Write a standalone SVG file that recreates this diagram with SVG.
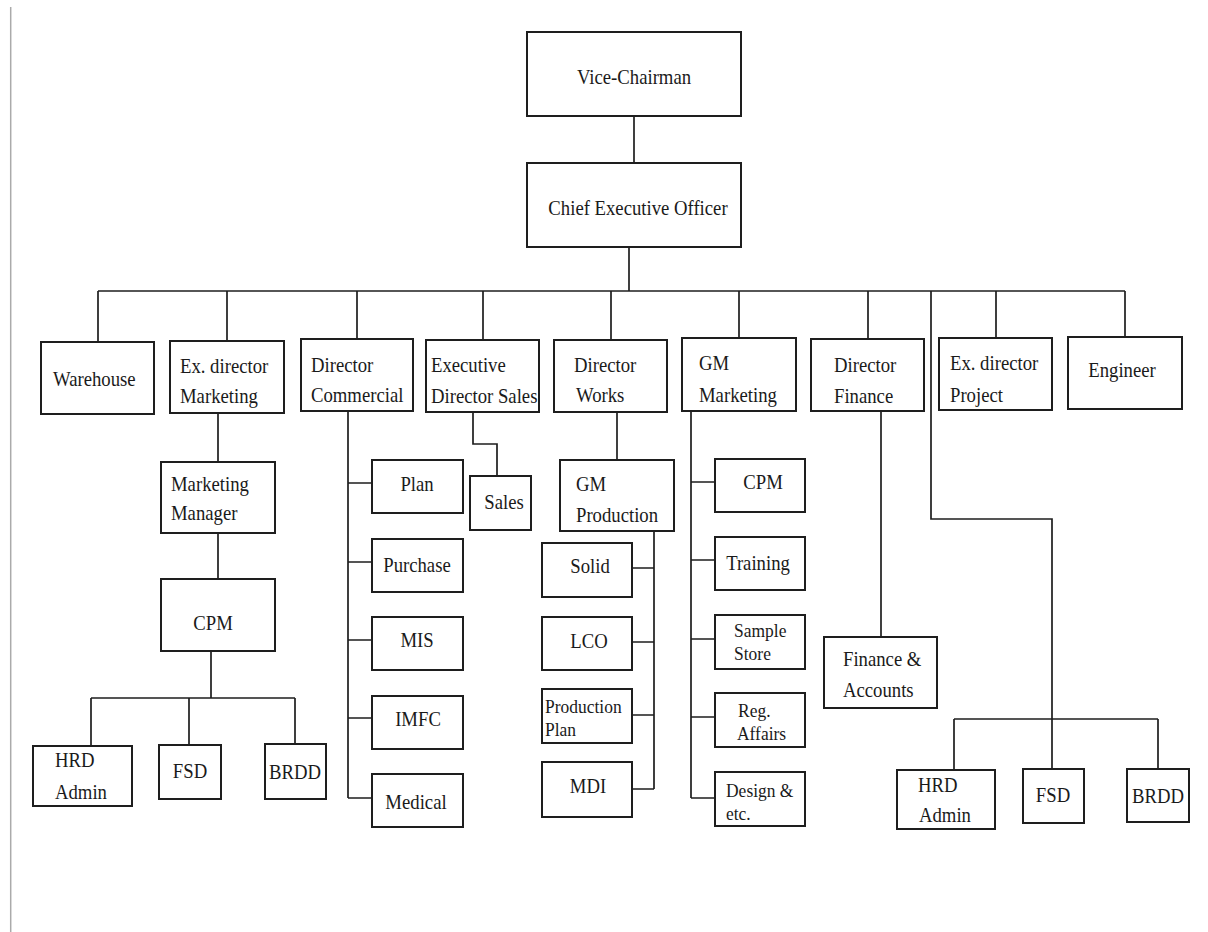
<svg xmlns="http://www.w3.org/2000/svg" width="1208" height="932" viewBox="0 0 1208 932">
<style>
.b{fill:#fff;stroke:#1e1e1e;stroke-width:2}
.c{fill:none;stroke:#1e1e1e;stroke-width:1.7}
text{font-family:"Liberation Serif","DejaVu Serif",serif;font-size:21.5px;fill:#1a1a1a}
.m{text-anchor:middle}
.t{font-size:19px}
</style>
<rect width="1208" height="932" fill="#fff"/>
<line x1="10.7" y1="7" x2="10.7" y2="932" stroke="#aaa" stroke-width="1.5"/>
<g id="connectors">
<path class="c" d="M634 116V163"/>
<path class="c" d="M629 247V291"/>
<path class="c" d="M98 291H1125"/>
<path class="c" d="M98 291V342M227 291V341M357 291V339M483 291V340M611 291V340M739 291V338M868 291V339M996 291V338M1125 291V337"/>
<path class="c" d="M218 413V462M218 533V579"/>
<path class="c" d="M211 651V698M91 698H295M91 698V746M189 698V745M295 698V744"/>
<path class="c" d="M348 411V798M348 483H372M348 562H372M348 640H372M348 718H372M348 798H372"/>
<path class="c" d="M473 412V444H497V476"/>
<path class="c" d="M617 412V460"/>
<path class="c" d="M654 531V789M632 568H654M632 642H654M632 715H654M632 789H654"/>
<path class="c" d="M691 411V798M691 482H715M691 560H715M691 639H715M691 717H715M691 798H715"/>
<path class="c" d="M881 411V637"/>
<path class="c" d="M931 291V519H1052V769"/>
<path class="c" d="M954 719H1158M954 719V770M1158 719V769"/>
</g>
<g id="vice-chairman"><rect class="b" x="527" y="32" width="214" height="84"/><text transform="translate(634 84) scale(0.87 1)" class="m">Vice-Chairman</text></g>
<g id="ceo"><rect class="b" x="527" y="163" width="214" height="84"/><text transform="translate(638 215) scale(0.87 1)" class="m">Chief Executive Officer</text></g>
<g id="warehouse"><rect class="b" x="41" y="342" width="113" height="72"/><text transform="translate(53 386) scale(0.87 1)">Warehouse</text></g>
<g id="ex-dir-marketing"><rect class="b" x="170" y="341" width="114" height="72"/><text transform="translate(180 373) scale(0.87 1)">Ex. director</text><text transform="translate(180 403) scale(0.87 1)">Marketing</text></g>
<g id="dir-commercial"><rect class="b" x="301" y="339" width="112" height="72"/><text transform="translate(311 372) scale(0.87 1)">Director</text><text transform="translate(311 402) scale(0.87 1)">Commercial</text></g>
<g id="exec-dir-sales"><rect class="b" x="426" y="340" width="113" height="72"/><text transform="translate(431 372) scale(0.87 1)">Executive</text><text transform="translate(431 403) scale(0.87 1)">Director Sales</text></g>
<g id="dir-works"><rect class="b" x="554" y="340" width="113" height="72"/><text transform="translate(574 372) scale(0.87 1)">Director</text><text transform="translate(576 402) scale(0.87 1)">Works</text></g>
<g id="gm-marketing"><rect class="b" x="682" y="338" width="114" height="73"/><text transform="translate(699 370) scale(0.87 1)">GM</text><text transform="translate(699 402) scale(0.87 1)">Marketing</text></g>
<g id="dir-finance"><rect class="b" x="811" y="339" width="113" height="72"/><text transform="translate(834 372) scale(0.87 1)">Director</text><text transform="translate(834 403) scale(0.87 1)">Finance</text></g>
<g id="ex-dir-project"><rect class="b" x="939" y="338" width="113" height="72"/><text transform="translate(950 370) scale(0.87 1)">Ex. director</text><text transform="translate(950 402) scale(0.87 1)">Project</text></g>
<g id="engineer"><rect class="b" x="1068" y="337" width="114" height="72"/><text transform="translate(1122 377) scale(0.87 1)" class="m">Engineer</text></g>
<g id="marketing-manager"><rect class="b" x="161" y="462" width="114" height="71"/><text transform="translate(171 491) scale(0.87 1)">Marketing</text><text transform="translate(171 520) scale(0.87 1)">Manager</text></g>
<g id="cpm-left"><rect class="b" x="161" y="579" width="114" height="72"/><text transform="translate(213 630) scale(0.87 1)" class="m">CPM</text></g>
<g id="hrd-admin-left"><rect class="b" x="33" y="746" width="99" height="60"/><text transform="translate(55 767) scale(0.87 1)">HRD</text><text transform="translate(55 799) scale(0.87 1)">Admin</text></g>
<g id="fsd-left"><rect class="b" x="159" y="745" width="62" height="54"/><text transform="translate(190 778) scale(0.87 1)" class="m">FSD</text></g>
<g id="brdd-left"><rect class="b" x="265" y="744" width="61" height="55"/><text transform="translate(295 779) scale(0.87 1)" class="m">BRDD</text></g>
<g id="plan"><rect class="b" x="372" y="460" width="91" height="53"/><text transform="translate(417 491) scale(0.87 1)" class="m">Plan</text></g>
<g id="purchase"><rect class="b" x="372" y="539" width="91" height="53"/><text transform="translate(417 572) scale(0.87 1)" class="m">Purchase</text></g>
<g id="mis"><rect class="b" x="372" y="617" width="91" height="53"/><text transform="translate(417 647) scale(0.87 1)" class="m">MIS</text></g>
<g id="imfc"><rect class="b" x="372" y="696" width="91" height="53"/><text transform="translate(418 726) scale(0.87 1)" class="m">IMFC</text></g>
<g id="medical"><rect class="b" x="372" y="774" width="91" height="53"/><text transform="translate(416 809) scale(0.87 1)" class="m">Medical</text></g>
<g id="sales"><rect class="b" x="470" y="476" width="61" height="54"/><text transform="translate(504 509) scale(0.87 1)" class="m">Sales</text></g>
<g id="gm-production"><rect class="b" x="560" y="460" width="114" height="71"/><text transform="translate(576 491) scale(0.87 1)">GM</text><text transform="translate(576 522) scale(0.87 1)">Production</text></g>
<g id="solid"><rect class="b" x="542" y="543" width="90" height="54"/><text transform="translate(590 573) scale(0.87 1)" class="m">Solid</text></g>
<g id="lco"><rect class="b" x="542" y="617" width="90" height="53"/><text transform="translate(589 648) scale(0.87 1)" class="m">LCO</text></g>
<g id="production-plan"><rect class="b" x="542" y="689" width="90" height="54"/><text class="t" transform="translate(545 713) scale(0.92 1)">Production</text><text class="t" transform="translate(545 736) scale(0.92 1)">Plan</text></g>
<g id="mdi"><rect class="b" x="542" y="762" width="90" height="55"/><text transform="translate(588 793) scale(0.87 1)" class="m">MDI</text></g>
<g id="cpm-right"><rect class="b" x="715" y="459" width="90" height="53"/><text transform="translate(763 489) scale(0.87 1)" class="m">CPM</text></g>
<g id="training"><rect class="b" x="715" y="537" width="90" height="53"/><text transform="translate(758 570) scale(0.87 1)" class="m">Training</text></g>
<g id="sample-store"><rect class="b" x="715" y="615" width="90" height="54"/><text class="t" transform="translate(734 637) scale(0.92 1)">Sample</text><text class="t" transform="translate(734 660) scale(0.92 1)">Store</text></g>
<g id="reg-affairs"><rect class="b" x="715" y="693" width="90" height="54"/><text class="t" transform="translate(738 717) scale(0.92 1)">Reg.</text><text class="t" transform="translate(737 740) scale(0.92 1)">Affairs</text></g>
<g id="design-etc"><rect class="b" x="715" y="772" width="90" height="54"/><text class="t" transform="translate(726 797) scale(0.92 1)">Design &amp;</text><text class="t" transform="translate(726 820) scale(0.92 1)">etc.</text></g>
<g id="finance-accounts"><rect class="b" x="824" y="637" width="113" height="71"/><text transform="translate(843 666) scale(0.87 1)">Finance &amp;</text><text transform="translate(843 697) scale(0.87 1)">Accounts</text></g>
<g id="hrd-admin-right"><rect class="b" x="897" y="770" width="98" height="59"/><text transform="translate(918 792) scale(0.87 1)">HRD</text><text transform="translate(919 822) scale(0.87 1)">Admin</text></g>
<g id="fsd-right"><rect class="b" x="1023" y="769" width="61" height="54"/><text transform="translate(1053 802) scale(0.87 1)" class="m">FSD</text></g>
<g id="brdd-right"><rect class="b" x="1127" y="769" width="62" height="53"/><text transform="translate(1158 803) scale(0.87 1)" class="m">BRDD</text></g>
</svg>
